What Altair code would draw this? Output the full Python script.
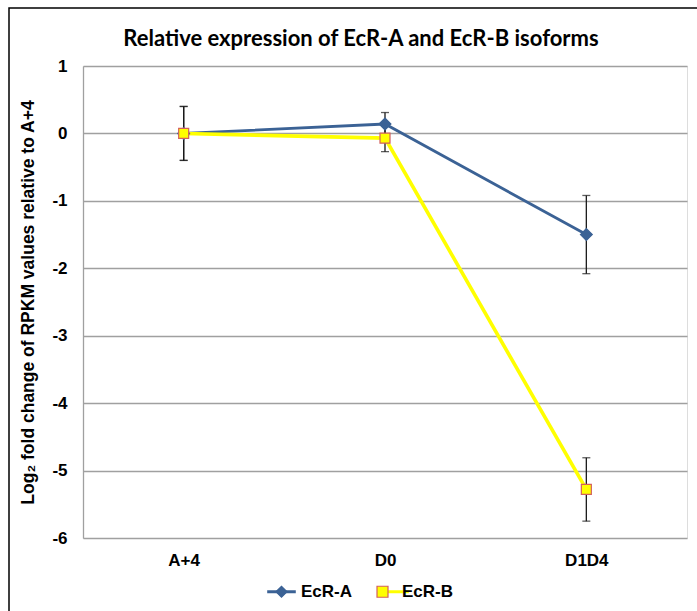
import altair as alt
import pandas as pd

# Stages on the x axis and the two isoforms
stages = ["A+4", "D0", "D1D4"]
series = ["EcR-A", "EcR-B"]

# Log2 fold change relative to A+4, with error half-widths
ecr_a = [0.0, 0.14, -1.50]
ecr_a_err = [0.40, 0.17, 0.58]
ecr_b = [0.0, -0.07, -5.28]
ecr_b_err = [0.40, 0.20, 0.47]

y_ticks = [1, 0, -1, -2, -3, -4, -5, -6]

BLUE = "#3B6295"
YELLOW = "#FFFF00"
SQUARE_EDGE = "#D2605C"
GRID = "#A0A0A0"
FONT = "Liberation Sans"

rows = []
for name, vals, errs in [("EcR-A", ecr_a, ecr_a_err), ("EcR-B", ecr_b, ecr_b_err)]:
    for s, v, e in zip(stages, vals, errs):
        rows.append({"stage": s, "series": name, "value": v, "lo": v - e, "hi": v + e})
df = pd.DataFrame(rows)

W, H = 604, 472

x_scale = alt.Scale(domain=stages, type="point", padding=0.5)
y_scale = alt.Scale(domain=[-6, 1], nice=False, zero=False)

x_enc = alt.X(
    "stage:N",
    scale=x_scale,
    axis=alt.Axis(
        title=None, labelAngle=0, ticks=False, domain=False, grid=False,
        labelFont=FONT, labelFontSize=17, labelFontWeight="bold",
        labelColor="black", labelPadding=14,
    ),
)
y_enc = alt.Y(
    "value:Q",
    scale=y_scale,
    axis=alt.Axis(
        values=y_ticks, labelExpr="'' + datum.value", ticks=False,
        grid=True, gridColor=GRID, gridWidth=1.3,
        domain=True, domainColor=GRID, domainWidth=1.3,
        labelFont=FONT, labelFontSize=17, labelFontWeight="bold",
        labelColor="black", labelPadding=16,
        title="Log₂ fold change of RPKM values relative to A+4",
        titleFont=FONT, titleFontSize=17.5, titleFontWeight="bold",
        titleColor="black", titleAngle=-90, titleAlign="center",
        titleBaseline="middle", titleX=-55, titleY=236,
    ),
)

base = alt.Chart(df)

lines = base.mark_line().encode(
    x=x_enc,
    y=y_enc,
    color=alt.Color("series:N", scale=alt.Scale(domain=series, range=[BLUE, YELLOW]), legend=None),
    strokeWidth=alt.StrokeWidth("series:N", scale=alt.Scale(domain=series, range=[2.8, 3.6]), legend=None),
)

err_rule = base.mark_rule(color="#1A1A1A", strokeWidth=1.3).encode(
    x=alt.X("stage:N", scale=x_scale),
    y=alt.Y("lo:Q", scale=y_scale),
    y2="hi:Q",
)
cap_lo = base.mark_tick(color="#1A1A1A", thickness=1.3, size=8).encode(
    x=alt.X("stage:N", scale=x_scale),
    y=alt.Y("lo:Q", scale=y_scale),
)
cap_hi = base.mark_tick(color="#1A1A1A", thickness=1.3, size=8).encode(
    x=alt.X("stage:N", scale=x_scale),
    y=alt.Y("hi:Q", scale=y_scale),
)

points = base.mark_point(filled=True, opacity=1, strokeWidth=1.2).encode(
    x=alt.X("stage:N", scale=x_scale),
    y=alt.Y("value:Q", scale=y_scale),
    fill=alt.Fill("series:N", scale=alt.Scale(domain=series, range=[BLUE, YELLOW]), legend=None),
    stroke=alt.Stroke("series:N", scale=alt.Scale(domain=series, range=[BLUE, SQUARE_EDGE]), legend=None),
    shape=alt.Shape("series:N", scale=alt.Scale(domain=series, range=["diamond", "square"]), legend=None),
    size=alt.Size("series:N", scale=alt.Scale(domain=series, range=[140, 100]), legend=None),
)

# Legend: a line-segment legend underneath a marker legend at the same spot
LEG_X, LEG_Y = 190, 517
LINE_PATH = "M-2.6,0H2.6"
common_leg = dict(
    orient="none", legendX=LEG_X, legendY=LEG_Y, direction="horizontal",
    title=None, symbolSize=121, labelFont=FONT, labelFontSize=17,
    labelFontWeight="bold", labelColor="black", labelOffset=11,
    columnPadding=21, symbolOpacity=1,
)
leg_lines = alt.Legend(symbolStrokeWidth=3, labelOpacity=0, **common_leg)
leg_marks = alt.Legend(symbolStrokeWidth=1.2, **common_leg)

legend_lines = base.mark_point(filled=False, strokeWidth=3).encode(
    x=alt.X("stage:N", scale=x_scale),
    y=alt.Y("value:Q", scale=y_scale),
    stroke=alt.Stroke("series:N", scale=alt.Scale(domain=series, range=[BLUE, YELLOW]), legend=leg_lines),
    shape=alt.Shape("series:N", scale=alt.Scale(domain=series, range=[LINE_PATH, LINE_PATH]), legend=leg_lines),
).transform_filter("false")

legend_marks = base.mark_point(filled=True, strokeWidth=1.2).encode(
    x=alt.X("stage:N", scale=x_scale),
    y=alt.Y("value:Q", scale=y_scale),
    fill=alt.Fill("series:N", scale=alt.Scale(domain=series, range=[BLUE, YELLOW]), legend=leg_marks),
    stroke=alt.Stroke("series:N", scale=alt.Scale(domain=series, range=[BLUE, SQUARE_EDGE]), legend=leg_marks),
    shape=alt.Shape("series:N", scale=alt.Scale(domain=series, range=["diamond", "square"]), legend=leg_marks),
).transform_filter("false")

# Outer frame of the chart
frame = alt.Chart(pd.DataFrame({"k": [0]})).mark_rect(
    fill="transparent", stroke="black", strokeWidth=1.5, clip=False
).encode(
    x=alt.value(-74), x2=alt.value(W + 30), y=alt.value(-58), y2=alt.value(H + 90)
)

chart = alt.layer(
    frame, lines, err_rule, cap_lo, cap_hi, points, legend_lines, legend_marks
).resolve_scale(
    fill="independent", stroke="independent", shape="independent", size="independent"
).properties(
    width=W,
    height=H,
    autosize=alt.AutoSizeParams(type="none"),
    padding={"left": 83, "top": 66, "right": 10, "bottom": 73},
    title=alt.TitleParams(
        "Relative expression of EcR-A and EcR-B isoforms",
        font="Lato", fontSize=22, fontWeight="bold", color="black",
        anchor="middle", dx=-24, offset=-54, baseline="middle",
    ),
).configure_view(stroke=None).configure(background="white")

chart.save("out.html", embed_options={"renderer": "svg", "actions": False})
